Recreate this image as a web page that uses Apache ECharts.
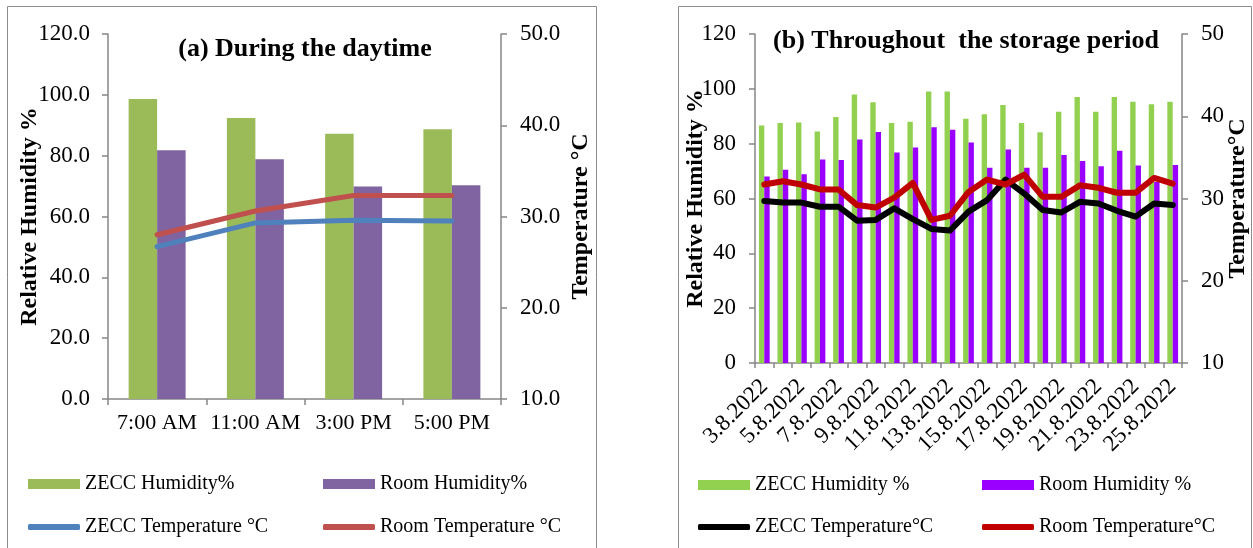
<!DOCTYPE html>
<html>
<head>
<meta charset="utf-8">
<script src="https://cdn.jsdelivr.net/npm/echarts@6/dist/echarts.min.js"></script>
<style>
html,body{margin:0;padding:0;background:#fff;}
#chart{width:1253px;height:548px;}
</style>
</head>
<body>
<div id="chart"></div>
<script>
// ---- Panel (a): During the daytime ----
var timesA = ['7:00 AM', '11:00 AM', '3:00 PM', '5:00 PM'];
var zeccHumA = [98.6, 92.4, 87.2, 88.7];
var roomHumA = [81.8, 78.8, 69.9, 70.3];
var zeccTempA = [26.7, 29.3, 29.6, 29.5];
var roomTempA = [28.0, 30.6, 32.3, 32.3];

// ---- Panel (b): Throughout the storage period ----
var datesB = ['3.8.2022','4.8.2022','5.8.2022','6.8.2022','7.8.2022','8.8.2022','9.8.2022','10.8.2022',
  '11.8.2022','12.8.2022','13.8.2022','14.8.2022','15.8.2022','16.8.2022','17.8.2022','18.8.2022',
  '19.8.2022','20.8.2022','21.8.2022','22.8.2022','23.8.2022','24.8.2022','25.8.2022'];
var zeccHumB = [86.6, 87.5, 87.7, 84.4, 89.7, 97.9, 95.1, 87.5, 88.0, 99.0, 99.0, 89.1, 90.7, 94.1, 87.5, 84.2, 91.6, 97.0, 91.6, 97.0, 95.3, 94.4, 95.3];
var roomHumB = [68.0, 70.5, 68.8, 74.2, 74.0, 81.5, 84.3, 76.8, 78.6, 86.0, 85.1, 80.4, 71.2, 77.9, 71.2, 71.2, 75.9, 73.7, 71.8, 77.4, 72.0, 66.0, 72.2];
var zeccTempB = [29.7, 29.5, 29.5, 29.0, 29.0, 27.3, 27.4, 28.8, 27.5, 26.3, 26.1, 28.4, 29.8, 32.3, 30.6, 28.6, 28.3, 29.6, 29.4, 28.5, 27.8, 29.4, 29.2];
var roomTempB = [31.7, 32.1, 31.7, 31.1, 31.1, 29.2, 28.9, 30.1, 31.9, 27.4, 27.9, 30.8, 32.3, 31.7, 32.9, 30.2, 30.2, 31.6, 31.3, 30.7, 30.7, 32.5, 31.8];

// tick labels
var humTicks = {min: 0, max: 120, interval: 20};
var tempTicks = {min: 10, max: 50, interval: 10};

var FONT = '"Liberation Serif", "Times New Roman", serif';
var AXIS_COLOR = '#868686';

function axisLine() { return {show: true, lineStyle: {color: AXIS_COLOR, width: 1.5}}; }
function axisTick(extra) { return Object.assign({show: true, length: 6, lineStyle: {color: AXIS_COLOR, width: 1.5}}, extra || {}); }

function yAxis(grid, pos, ticks, decimals, name, gap, fontSize, margin) {
  return {
    type: 'value', gridIndex: grid, position: pos,
    min: ticks.min, max: ticks.max, interval: ticks.interval,
    axisLine: axisLine(), axisTick: axisTick(), splitLine: {show: false},
    axisLabel: {fontFamily: FONT, fontSize: fontSize, color: '#000', margin: margin,
      formatter: function (v) { return v.toFixed(decimals); }},
    name: name, nameLocation: 'middle', nameGap: gap, nameMoveOverlap: false,
    nameTextStyle: {fontFamily: FONT, fontSize: 24, fontWeight: 'bold', color: '#000'}
  };
}

function legendItem(name, left, top, isLine) {
  return {
    data: [name], left: left, top: top, padding: 0, orient: 'horizontal',
    icon: isLine ? 'roundRect' : 'rect',
    itemWidth: 52, itemHeight: isLine ? 6 : 10,
    selectedMode: false,
    textStyle: {fontFamily: FONT, fontSize: 20, color: '#000'}
  };
}

var chart = echarts.init(document.getElementById('chart'), null, {renderer: 'canvas'});
chart.setOption({
  backgroundColor: '#fff',
  animation: false,
  grid: [
    {left: 108, right: 752, top: 34, bottom: 149},
    {left: 755, right: 71, top: 34, bottom: 185}
  ],
  xAxis: [
    {type: 'category', gridIndex: 0, data: timesA,
      axisLine: axisLine(), axisTick: axisTick(), splitLine: {show: false},
      axisLabel: {fontFamily: FONT, fontSize: 22, color: '#000', margin: 13, interval: 0}},
    {type: 'category', gridIndex: 1, data: datesB,
      axisLine: axisLine(), axisTick: axisTick({interval: 0, length: 5}), splitLine: {show: false},
      axisLabel: {fontFamily: FONT, fontSize: 23, color: '#000', margin: 20, rotate: 45, interval: 1}}
  ],
  yAxis: [
    yAxis(0, 'left', humTicks, 1, 'Relative Humidity %', 66, 23, 18),
    yAxis(0, 'right', tempTicks, 1, 'Temperature °C', 68, 23, 19),
    yAxis(1, 'left', humTicks, 0, 'Relative Humidity %', 47, 23, 19),
    yAxis(1, 'right', tempTicks, 0, 'Temperature°C', 44, 23, 19)
  ],
  legend: [
    legendItem('ZECC Humidity%', 28, 474, false),
    legendItem('Room Humidity%', 323, 474, false),
    legendItem('ZECC Temperature °C', 28, 517, true),
    legendItem('Room Temperature °C', 323, 517, true),
    legendItem('ZECC Humidity %', 698, 475, false),
    legendItem('Room Humidity %', 982, 475, false),
    legendItem('ZECC Temperature°C', 698, 517, true),
    legendItem('Room Temperature°C', 982, 517, true)
  ],
  graphic: [
    {type: 'rect', shape: {x: 7.5, y: 6.5, width: 589, height: 560}, style: {fill: 'none', stroke: '#8c8c8c', lineWidth: 1}, silent: true},
    {type: 'rect', shape: {x: 678.5, y: 6.5, width: 573, height: 560}, style: {fill: 'none', stroke: '#8c8c8c', lineWidth: 1}, silent: true},
    {type: 'text', x: 305, y: 49, style: {text: '(a) During the daytime', font: 'bold 26px ' + FONT, fill: '#000', textAlign: 'center', textVerticalAlign: 'middle'}, silent: true},
    {type: 'text', x: 966, y: 41, style: {text: '(b) Throughout  the storage period', font: 'bold 26px ' + FONT, fill: '#000', textAlign: 'center', textVerticalAlign: 'middle'}, silent: true}
  ],
  series: [
    {name: 'ZECC Humidity%', type: 'bar', xAxisIndex: 0, yAxisIndex: 0, data: zeccHumA,
      itemStyle: {color: '#9BBB59'}, barGap: '0%', barCategoryGap: '42%'},
    {name: 'Room Humidity%', type: 'bar', xAxisIndex: 0, yAxisIndex: 0, data: roomHumA,
      itemStyle: {color: '#8064A2'}, barGap: '0%', barCategoryGap: '42%'},
    {name: 'ZECC Temperature °C', type: 'line', xAxisIndex: 0, yAxisIndex: 1, data: zeccTempA,
      symbol: 'none', lineStyle: {color: '#4F81BD', width: 5, cap: 'round', join: 'round'}, itemStyle: {color: '#4F81BD'}, z: 5},
    {name: 'Room Temperature °C', type: 'line', xAxisIndex: 0, yAxisIndex: 1, data: roomTempA,
      symbol: 'none', lineStyle: {color: '#C0504D', width: 5, cap: 'round', join: 'round'}, itemStyle: {color: '#C0504D'}, z: 5},

    {name: 'ZECC Humidity %', type: 'bar', xAxisIndex: 1, yAxisIndex: 2, data: zeccHumB,
      itemStyle: {color: '#92D050'}, barGap: '0%', barCategoryGap: '42%'},
    {name: 'Room Humidity %', type: 'bar', xAxisIndex: 1, yAxisIndex: 2, data: roomHumB,
      itemStyle: {color: '#9900FF'}, barGap: '0%', barCategoryGap: '42%'},
    {name: 'ZECC Temperature°C', type: 'line', xAxisIndex: 1, yAxisIndex: 3, data: zeccTempB,
      symbol: 'none', lineStyle: {color: '#000000', width: 6, cap: 'round', join: 'round'}, itemStyle: {color: '#000000'}, z: 5},
    {name: 'Room Temperature°C', type: 'line', xAxisIndex: 1, yAxisIndex: 3, data: roomTempB,
      symbol: 'none', lineStyle: {color: '#C00000', width: 6, cap: 'round', join: 'round'}, itemStyle: {color: '#C00000'}, z: 5}
  ]
});
</script>
</body>
</html>
